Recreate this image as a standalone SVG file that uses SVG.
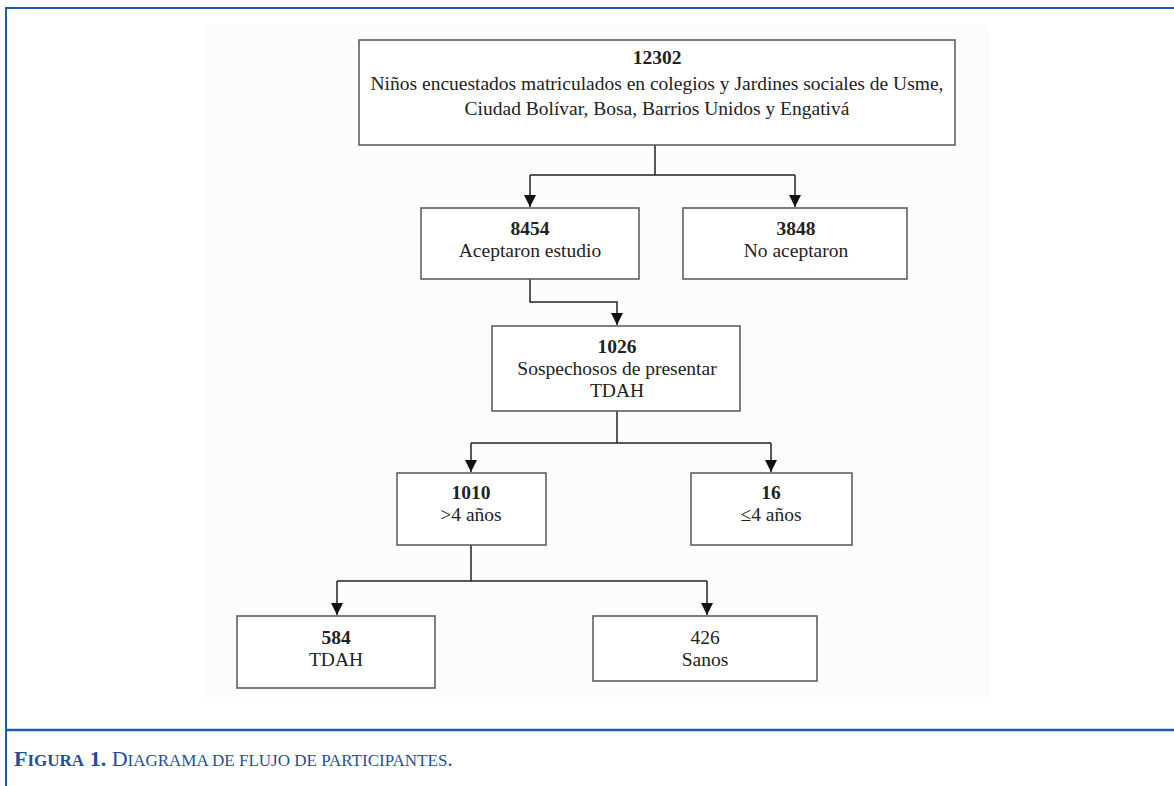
<svg xmlns="http://www.w3.org/2000/svg" width="1174" height="786" viewBox="0 0 1174 786">
<defs>
<marker id="arr" markerWidth="12" markerHeight="12" refX="10" refY="5" orient="auto" markerUnits="userSpaceOnUse" viewBox="0 0 10 10">
<path d="M0,0 L10,5 L0,10 Z" fill="#111"/>
</marker>
<style>
.box{fill:#fff;stroke:#555;stroke-width:1.5}
.t{font-family:"Liberation Serif","Times New Roman",serif;font-size:19.5px;fill:#222;text-anchor:middle}
.b{font-weight:bold}
.ln{fill:none;stroke:#222;stroke-width:1.5}
.cap{font-family:"Liberation Serif","Times New Roman",serif;fill:#1f4f9b}
</style>
</defs>
<rect width="1174" height="786" fill="#fff"/>
<g id="frame">
<line x1="5" y1="8" x2="1174" y2="8" stroke="#1f5aab" stroke-width="2"/>
<line x1="6" y1="7" x2="6" y2="786" stroke="#1f5aab" stroke-width="2"/>
<line x1="5" y1="730" x2="1174" y2="730" stroke="#1f5aab" stroke-width="2.5"/>
<rect x="203" y="25" width="787" height="672" fill="#fcfcfc"/>
</g>
<g id="connectors">
<path class="ln" d="M655,145 V175 M530,175 H795"/>
<path class="ln" d="M530,175 V207" marker-end="url(#arr)"/>
<path class="ln" d="M795,175 V207" marker-end="url(#arr)"/>
<path class="ln" d="M530,279 V302 H617 V325" marker-end="url(#arr)"/>
<path class="ln" d="M617,411 V443 M471,443 H771"/>
<path class="ln" d="M471,443 V472" marker-end="url(#arr)"/>
<path class="ln" d="M771,443 V472" marker-end="url(#arr)"/>
<path class="ln" d="M471,545 V581 M337,581 H707"/>
<path class="ln" d="M337,581 V615" marker-end="url(#arr)"/>
<path class="ln" d="M707,581 V615" marker-end="url(#arr)"/>
</g>
<g id="n12302">
<rect class="box" x="359" y="40" width="596" height="105"/>
<text class="t b" x="657" y="64">12302</text>
<text class="t" x="657" y="90">Niños encuestados matriculados en colegios y Jardines sociales de Usme,</text>
<text class="t" x="657" y="115">Ciudad Bolívar, Bosa, Barrios Unidos y Engativá</text>
</g>
<g id="n8454">
<rect class="box" x="421" y="208" width="218" height="71"/>
<text class="t b" x="530" y="235">8454</text>
<text class="t" x="530" y="257">Aceptaron estudio</text>
</g>
<g id="n3848">
<rect class="box" x="683" y="208" width="224" height="71"/>
<text class="t b" x="796" y="235">3848</text>
<text class="t" x="796" y="257">No aceptaron</text>
</g>
<g id="n1026">
<rect class="box" x="492" y="326" width="248" height="85"/>
<text class="t b" x="617" y="353">1026</text>
<text class="t" x="617" y="375">Sospechosos de presentar</text>
<text class="t" x="617" y="397">TDAH</text>
</g>
<g id="n1010">
<rect class="box" x="397" y="473" width="149" height="72"/>
<text class="t b" x="471" y="499">1010</text>
<text class="t" x="471" y="521">&gt;4 años</text>
</g>
<g id="n16">
<rect class="box" x="691" y="473" width="161" height="72"/>
<text class="t b" x="771" y="499">16</text>
<text class="t" x="771" y="521">≤4 años</text>
</g>
<g id="n584">
<rect class="box" x="237" y="616" width="198" height="72"/>
<text class="t b" x="336" y="644">584</text>
<text class="t" x="336" y="666">TDAH</text>
</g>
<g id="n426">
<rect class="box" x="593" y="616" width="224" height="65"/>
<text class="t" x="705" y="644">426</text>
<text class="t" x="705" y="666">Sanos</text>
</g>
<g id="caption">
<text class="cap" x="14" y="766"><tspan font-weight="bold" font-size="22">F</tspan><tspan font-weight="bold" font-size="17">IGURA</tspan><tspan font-weight="bold" font-size="22"> 1.</tspan><tspan font-size="22"> D</tspan><tspan font-size="17">IAGRAMA DE FLUJO DE PARTICIPANTES</tspan><tspan font-size="22">.</tspan></text>
</g>
</svg>
